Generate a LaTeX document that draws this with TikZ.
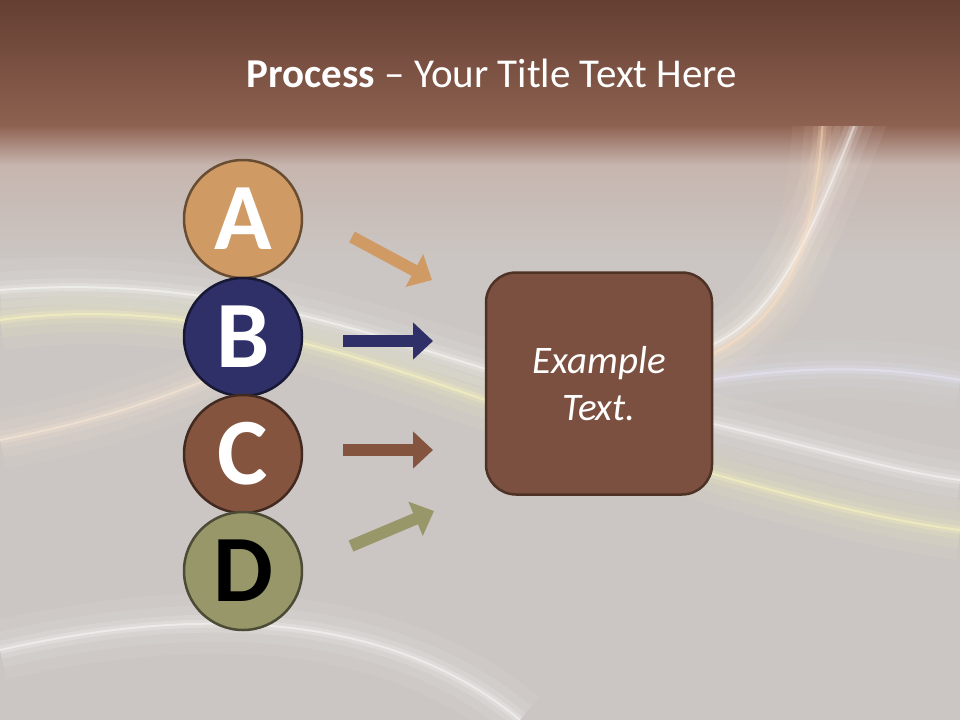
\documentclass[tikz,border=0pt]{standalone}
\usepackage{fontspec}
\setmainfont{Carlito}
\usetikzlibrary{arrows.meta}
\usepackage{xcolor}

\definecolor{barTop}{HTML}{643F32}
\definecolor{barLow}{HTML}{8E6150}
\definecolor{bgGrey}{HTML}{CBC6C3}
\definecolor{bgWarm}{HTML}{C6B5AE}
\definecolor{colA}{HTML}{D09A64}
\definecolor{colB}{HTML}{2F3068}
\definecolor{colC}{HTML}{84543F}
\definecolor{colD}{HTML}{98976A}
\definecolor{boxFill}{HTML}{7B5040}
\definecolor{boxLine}{HTML}{4E3226}

\tikzset{
	letter/.style={circle,minimum size=118,inner sep=0,line width=2.5,
		font=\bfseries\fontsize{95}{95}\selectfont},
	blockarrow/.style={line width=12,-{Triangle[width=36,length=20]}},
	streak/.style={line cap=butt,white}
}

\begin{document}
\begin{tikzpicture}[x=1pt,y=-1pt,>=Stealth]
	\useasboundingbox (0,0) rectangle (960,720);
	% background
	\fill[bgGrey] (0,0) rectangle (960,720);
	\shade[top color=bgWarm,bottom color=bgGrey] (0,164) rectangle (960,260);
	\shade[top color=barLow,bottom color=bgWarm] (0,125) rectangle (960,165);
	\foreach \w/\o in {60/0.06,36/0.08,18/0.12,8/0.2,2/0.45}
		{
		\draw[streak,line width=\w,opacity=\o] (0,290) .. controls (260,270) and (420,360) .. (600,400)
			.. controls (760,430) and (880,470) .. (960,480);
		\draw[streak,line width=\w,opacity=\o,yellow!25!white] (0,320) .. controls (220,290) and (420,380) .. (600,440)
			.. controls (760,490) and (880,520) .. (960,530);
		\draw[streak,line width=\w,opacity=\o,blue!8!white] (680,385) .. controls (820,360) and (900,370) .. (960,380);
		\draw[streak,line width=\w,opacity=\o] (880,60) .. controls (812,235) and (780,320) .. (700,350);
		\draw[streak,line width=\w,opacity=\o,orange!25!white] (826,60) .. controls (820,250) and (790,320) .. (700,360);
		\draw[streak,line width=\w,opacity=\o,orange!15!white] (0,440) .. controls (100,420) and (160,400) .. (230,370);
		\draw[streak,line width=\w,opacity=\o] (0,650) .. controls (220,600) and (400,620) .. (520,720);
		};
	\shade[top color=barTop,bottom color=barLow] (0,0) rectangle (960,125.5);
	% title
	\node[anchor=base,text=white,font=\fontsize{41}{48}\selectfont] (title) at (492,87)
		{\textbf{Process} -- Your Title Text Here};
	% letters
	\foreach \n/\y/\c/\t in {A/219/colA/white, B/337/colB/white, C/454/colC/white, D/571/colD/black}
		{
		\node[letter,fill=\c,draw=\c!50!black,text=\t] (\n) at (243,\y) {\n};
		};
	% box
	\node[rounded corners=30,minimum width=226,minimum height=222,fill=boxFill,draw=boxLine,
		line width=2.5,align=center,text=white,font=\itshape\fontsize{39}{47}\selectfont]
		(box) at (599,383.5) {Example\\Text.};
	% arrows
	\foreach \n/\sx/\sy/\ex/\ey in {A/352/237/432/280, B/343/341/433/341, C/343/450/433/450, D/351/546/434/511}
		{
		\coordinate (\n-from) at (\sx,\sy);
		\coordinate (\n-to) at (\ex,\ey);
		\draw[blockarrow,col\n] (\n-from) -- (\n-to);
		};
\end{tikzpicture}
\end{document}
